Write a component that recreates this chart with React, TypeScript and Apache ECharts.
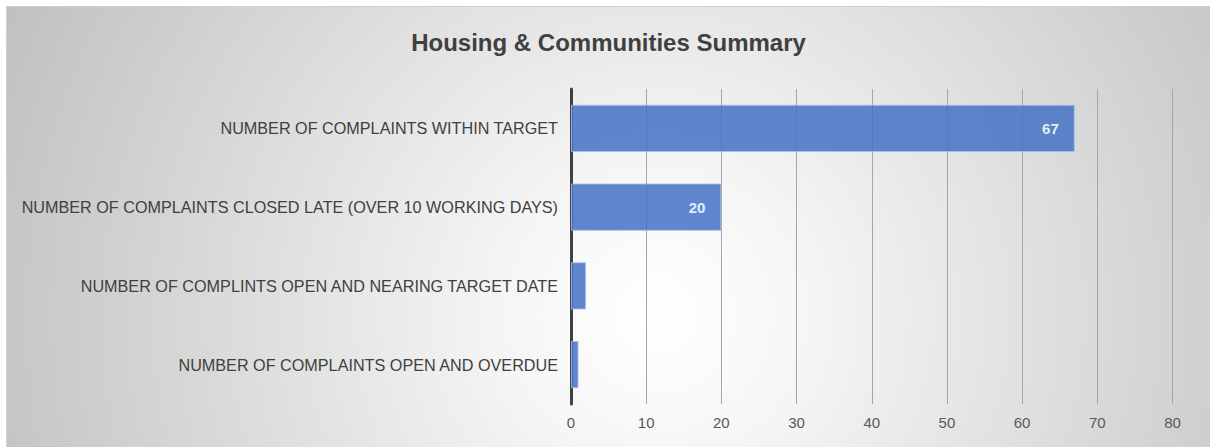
import React, { useEffect, useRef } from "react";
import * as echarts from "echarts";

const categories = [
  "NUMBER OF COMPLAINTS WITHIN TARGET",
  "NUMBER OF COMPLAINTS CLOSED LATE (OVER 10 WORKING DAYS)",
  "NUMBER OF COMPLINTS OPEN AND NEARING TARGET DATE",
  "NUMBER OF COMPLAINTS OPEN AND OVERDUE",
];
const values = [67, 20, 2, 1];
const labelThreshold = 5;

const FONT = "Liberation Sans, Arial, sans-serif";

export default function App() {
  const ref = useRef<HTMLDivElement>(null);
  useEffect(() => {
    if (!ref.current) return;
    const chart = echarts.init(ref.current, undefined, { renderer: "svg" });
    chart.setOption({
      animation: false,
      title: {
        text: "Housing & Communities Summary",
        left: "center",
        top: 18,
        textStyle: {
          fontFamily: FONT,
          fontSize: 24,
          fontWeight: "bold",
          color: "#404040",
        },
      },
      grid: { left: 564, right: 37.5, top: 82, bottom: 43 },
      xAxis: {
        type: "value",
        min: 0,
        max: 80,
        interval: 10,
        axisLine: { show: false },
        axisTick: { show: false },
        splitLine: { lineStyle: { color: "#a6a6a6", width: 1 } },
        axisLabel: {
          fontFamily: FONT,
          fontSize: 15,
          color: "#595959",
          margin: 11,
        },
      },
      yAxis: {
        type: "category",
        inverse: true,
        data: categories,
        axisLine: { show: true, lineStyle: { color: "#404040", width: 3 } },
        axisTick: { show: false },
        axisLabel: {
          fontFamily: FONT,
          fontSize: 16.2,
          color: "#404040",
          margin: 13,
        },
      },
      series: [
        {
          type: "bar",
          data: values,
          barCategoryGap: "40%",
          itemStyle: {
            color: "#4472C4",
            opacity: 0.85,
            borderColor: "#a9c0e8",
            borderWidth: 1,
          },
          label: {
            show: true,
            position: "insideRight",
            distance: 16,
            color: "#ffffff",
            fontWeight: "bold",
            fontSize: 15,
            fontFamily: FONT,
            formatter: (p: any) => (p.value >= labelThreshold ? String(p.value) : ""),
          },
        },
      ],
    });
    return () => chart.dispose();
  }, []);
  return (
    <div
      style={{
        position: "absolute",
        left: 6,
        top: 6,
        width: 1204,
        height: 441,
        boxSizing: "border-box",
        borderTop: "1px solid #cfcfcf",
        borderLeft: "1px solid #cfcfcf",
        background:
          "radial-gradient(circle farthest-corner at 54% 70%, #ffffff 0%, #f6f6f6 20%, #c0c0c0 100%)",
      }}
    >
      <div ref={ref} style={{ width: 1203, height: 440 }} />
    </div>
  );
}
